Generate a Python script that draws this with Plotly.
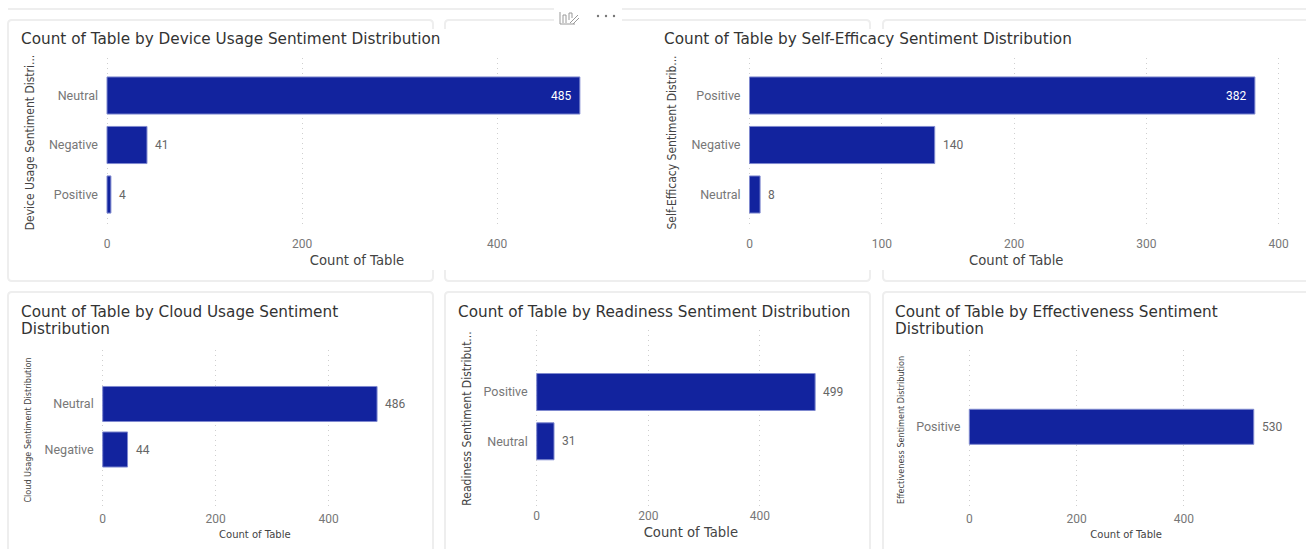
import plotly.graph_objects as go

W, H = 1306, 549
BAR = "#12239E"
BAR_EDGE = "#7f89cf"
TITLE_FONT = "DejaVu Sans"
BODY_FONT = "Roboto"
NARROW_FONT = "DejaVu Sans Condensed"

device_categories = ["Neutral", "Negative", "Positive"]
device_counts = [485, 41, 4]
efficacy_categories = ["Positive", "Negative", "Neutral"]
efficacy_counts = [382, 140, 8]
cloud_categories = ["Neutral", "Negative"]
cloud_counts = [486, 44]
readiness_categories = ["Positive", "Neutral"]
readiness_counts = [499, 31]
effectiveness_categories = ["Positive"]
effectiveness_counts = [530]

# Pixel layout of each visual: plot box, first band centre, band pitch, px per count.
panels = [
    dict(cats=device_categories, vals=device_counts,
         title=["Count of Table by Device Usage Sentiment Distribution"], tx=19, ty=39,
         ytitle="Device Usage Sentiment Distri...", zero=107, right=607, top=58, bottom=227,
         c0=95.5, pitch=49.5, scale=0.975, dtick=200, width=0.75,
         big=True, inside=True, standoff=11, tick_gap=8),
    dict(cats=efficacy_categories, vals=efficacy_counts,
         title=["Count of Table by Self-Efficacy Sentiment Distribution"], tx=662, ty=39,
         ytitle="Self-Efficacy Sentiment Distrib...", zero=749.5, right=1283, top=58, bottom=227,
         c0=95.5, pitch=49.5, scale=1.323, dtick=100, width=0.75,
         big=True, inside=True, standoff=12, tick_gap=8),
    dict(cats=cloud_categories, vals=cloud_counts,
         title=["Count of Table by Cloud Usage Sentiment", "Distribution"], tx=19, ty=312,
         ytitle="Cloud Usage Sentiment Distribution", zero=102.7, right=407, top=350, bottom=510,
         c0=404, pitch=45.5, scale=0.5645, dtick=200, width=0.77,
         big=False, inside=False, standoff=11, tick_gap=0),
    dict(cats=readiness_categories, vals=readiness_counts,
         title=["Count of Table by Readiness Sentiment Distribution"], tx=456, ty=312,
         ytitle="Readiness Sentiment Distribut...", zero=536.7, right=845, top=330, bottom=507,
         c0=392, pitch=49.3, scale=0.558, dtick=200, width=0.75,
         big=True, inside=False, standoff=9, tick_gap=0),
    dict(cats=effectiveness_categories, vals=effectiveness_counts,
         title=["Count of Table by Effectiveness Sentiment", "Distribution"], tx=893, ty=312,
         ytitle="Effectiveness Sentiment Distribution", zero=969.3, right=1283, top=350, bottom=510,
         c0=426.8, pitch=45.5, scale=0.5367, dtick=200, width=0.77,
         big=False, inside=False, standoff=9, tick_gap=0),
]


def px(x):
    return x / W


def py(y):
    return 1 - y / H


def card_path(x0, y0, x1, y1, r=4):
    return (f"M {px(x0 + r)} {py(y0)} L {px(x1 - r)} {py(y0)} Q {px(x1)} {py(y0)} {px(x1)} {py(y0 + r)} "
            f"L {px(x1)} {py(y1 - r)} Q {px(x1)} {py(y1)} {px(x1 - r)} {py(y1)} "
            f"L {px(x0 + r)} {py(y1)} Q {px(x0)} {py(y1)} {px(x0)} {py(y1 - r)} "
            f"L {px(x0)} {py(y0 + r)} Q {px(x0)} {py(y0)} {px(x0 + r)} {py(y0)} Z")


def seg(x0, y0, x1, y1, color="#eeeeee", width=2):
    return dict(type="line", xref="paper", yref="paper", x0=px(x0), y0=py(y0), x1=px(x1), y1=py(y1),
                line=dict(color=color, width=width), layer="below")


def mask(x0, y0, x1, y1):
    return dict(type="rect", xref="paper", yref="paper", x0=px(x0), y0=py(y0), x1=px(x1), y1=py(y1),
                fillcolor="white", line=dict(width=0), layer="below")


def dot(cx, cy, r=1.2, color="#777777"):
    return dict(type="circle", xref="paper", yref="paper", x0=px(cx - r), y0=py(cy - r), x1=px(cx + r),
                y1=py(cy + r), fillcolor=color, line=dict(width=0))


shapes = [seg(8, 9, 1306, 9)]
for x0, y0, x1, y1 in [(8, 20, 433, 281), (445, 20, 870, 281), (883, 20, 1312, 281),
                       (8, 292, 433, 556), (445, 292, 870, 556), (883, 292, 1312, 556)]:
    shapes.append(dict(type="path", xref="paper", yref="paper", path=card_path(x0, y0, x1, y1),
                       fillcolor="white", line=dict(color="#eeeeee", width=2), layer="below"))
# The two wide top visuals sit over the gutters between their neighbouring cards.
shapes += [mask(431, 29, 447, 270), mask(868, 29, 885, 270), mask(554, 4, 622, 26)]

# Visual header: small chart-and-pencil icon and the three-dot menu.
ICON = "#9a9a9a"
for x0, y0, x1, y1 in [(560, 12, 560, 24), (560, 24, 575, 24),
                       (563, 15, 563, 23), (566, 15, 566, 23), (563, 15, 566, 15),
                       (569, 13, 569, 20), (572, 13, 572, 18), (569, 13, 572, 13),
                       (570, 23, 578, 15), (573, 24, 579, 18)]:
    shapes.append(seg(x0, y0, x1, y1, ICON, 1))
shapes += [dot(598, 16), dot(606, 16), dot(614, 16)]

annotations = []
fig = go.Figure()
layout = {}
for n, p in enumerate(panels, start=1):
    suffix = "" if n == 1 else str(n)
    xname, yname = f"xaxis{suffix}", f"yaxis{suffix}"
    fig.add_trace(go.Bar(
        y=p["cats"], x=p["vals"], orientation="h", width=p["width"],
        marker=dict(color=BAR, line=dict(color=BAR_EDGE, width=1)),
        xaxis=f"x{suffix}", yaxis=f"y{suffix}", showlegend=False, hoverinfo="y+x",
    ))
    # Two spare pixels either side keep the gridline at zero inside the plot box.
    left, right = p["zero"] - 2, p["right"] + 2
    layout[xname] = dict(
        domain=[px(left), px(right)], range=[-2 / p["scale"], (right - p["zero"]) / p["scale"]],
        anchor=f"y{suffix}", automargin=False,
        dtick=p["dtick"], showgrid=True, griddash="1px,4px", gridcolor="#cfcfcf", gridwidth=1,
        zeroline=False, showline=False, ticks="", ticklabelstandoff=p["tick_gap"],
        tickfont=dict(family=BODY_FONT, size=12, color="#777777"),
        title=dict(text="Count of Table", standoff=5,
                   font=dict(family=TITLE_FONT, size=13.2 if p["big"] else 10,
                             color="#444444")),
    )
    layout[yname] = dict(
        domain=[py(p["bottom"]), py(p["top"])], anchor=f"x{suffix}", type="category", automargin=False,
        categoryorder="array", categoryarray=p["cats"],
        range=[(p["bottom"] - p["c0"]) / p["pitch"], (p["top"] - p["c0"]) / p["pitch"]],
        showgrid=False, zeroline=False, showline=False, ticks="", ticklabelstandoff=6,
        tickfont=dict(family=BODY_FONT, size=12.5, color="#777777"),
        title=dict(text=p["ytitle"], standoff=p["standoff"],
                   font=dict(family=NARROW_FONT, size=12 if p["big"] else 9,
                             color="#444444")),
    )
    for i, line in enumerate(p["title"]):
        annotations.append(dict(
            text=line, x=px(p["tx"]), y=py(p["ty"] + 17 * i), xref="paper", yref="paper",
            xanchor="left", yanchor="middle", showarrow=False,
            font=dict(family=TITLE_FONT, size=15.25, color="#333333")))
    # Data labels sit past the bar end, except the long bars that fill the top visuals.
    for i, (cat, val) in enumerate(zip(p["cats"], p["vals"])):
        inside = p["inside"] and i == 0
        annotations.append(dict(
            text=str(val), x=val, y=cat, xref=f"x{suffix}", yref=f"y{suffix}", showarrow=False,
            xanchor="right" if inside else "left", xshift=-7 if inside else 6,
            font=dict(family=BODY_FONT, size=12, color="white" if inside else "#666666")))

fig.update_layout(
    width=W, height=H, autosize=False, margin=dict(l=0, r=0, t=0, b=0, autoexpand=False),
    paper_bgcolor="white", plot_bgcolor="rgba(0,0,0,0)", shapes=shapes, annotations=annotations,
    **layout,
)
fig.write_html("out.html", config=dict(displayModeBar=False))
